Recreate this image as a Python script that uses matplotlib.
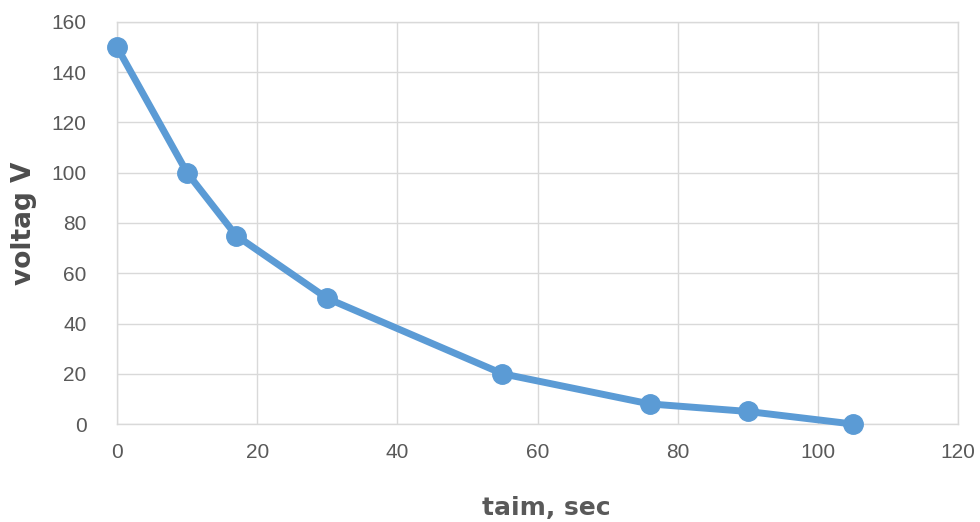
import matplotlib
matplotlib.use("Agg")
import matplotlib.pyplot as plt

# time (sec) and voltage (V)
taim = [0, 10, 17, 30, 55, 76, 90, 105]
voltag = [150, 100, 75, 50, 20, 8, 5, 0]

x_ticks = [0, 20, 40, 60, 80, 100, 120]
y_ticks = [0, 20, 40, 60, 80, 100, 120, 140, 160]

plt.rcParams['font.family'] = ['Liberation Sans', 'DejaVu Sans']

fig = plt.figure(figsize=(9.8, 5.22), dpi=100)
ax = fig.add_axes([0.1194, 0.1877, 0.8582, 0.7702])

ax.plot(taim, voltag, color='#5B9BD5', linewidth=5, marker='o',
        markersize=14, solid_capstyle='round', zorder=3, clip_on=False)

ax.set_xlim(0, 120)
ax.set_ylim(0, 160)
ax.set_xticks(x_ticks)
ax.set_yticks(y_ticks)
ax.grid(True, color='#D9D9D9', linewidth=1)
for s in ax.spines.values():
    s.set_color('#D9D9D9')
    s.set_linewidth(1)
ax.tick_params(length=0, labelsize=15, colors='#595959')
ax.tick_params(axis='x', pad=14)
ax.tick_params(axis='y', pad=22)

ax.set_xlabel('taim, sec', fontsize=18, fontweight='bold', color='#595959',
              family='DejaVu Sans')
ax.xaxis.set_label_coords(0.511, -0.178)
ax.set_ylabel('voltag V', fontsize=19, fontweight='bold', color='#4d4d4d',
              family='DejaVu Sans', labelpad=10)

fig.savefig('out.png', dpi=100)
